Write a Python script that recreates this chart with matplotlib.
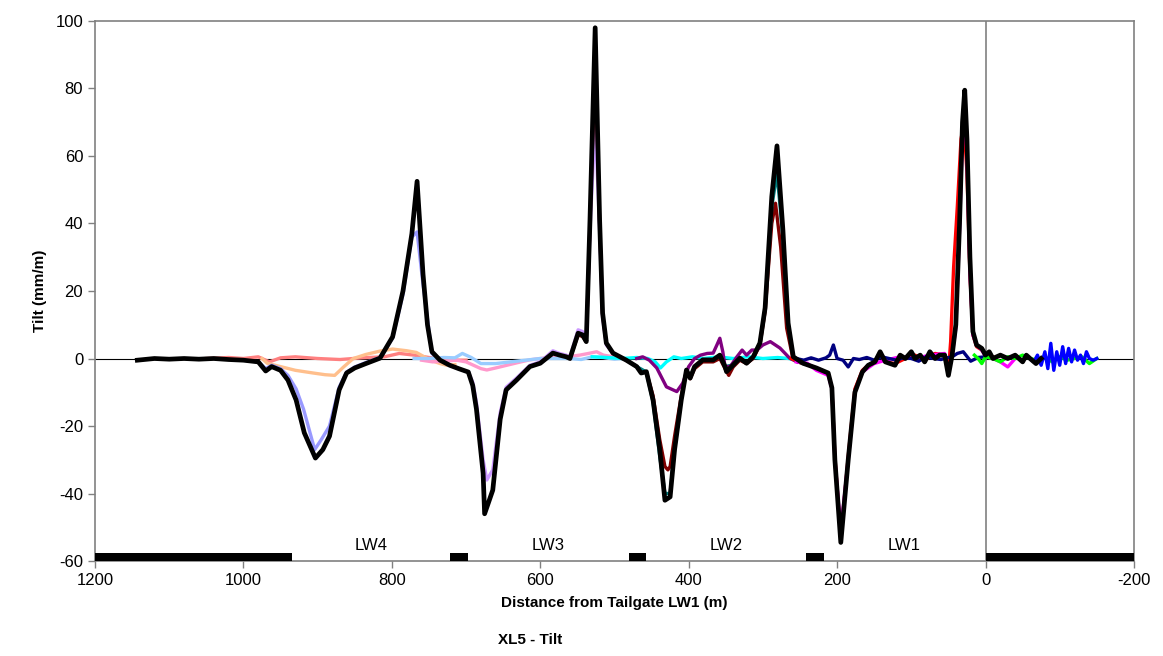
# XL5 - Tilt profile along the monitoring line

import matplotlib.pyplot as plt

plt.rcParams['font.family'] = ['Liberation Sans', 'DejaVu Sans']
plt.rcParams['axes.unicode_minus'] = False

# ------------------------------------------
# DATA
# ------------------------------------------
black_x = [1143, 1120, 1100, 1080, 1060, 1040, 1020, 1000, 980, 970, 962, 950, 940, 929, 918, 903,
           893, 884, 871, 861, 850, 835, 816, 799, 785, 773, 766, 758, 752, 746, 735, 722, 710, 697,
           691, 686, 677, 675, 664, 654, 646, 632, 614, 600, 583, 574, 565, 560, 549, 543, 538, 533,
           526, 520, 516, 511, 502, 484, 470, 464, 457, 448, 439, 432, 425, 419, 410, 403, 398, 392,
           381, 367, 358, 351, 349, 340, 331, 322, 313, 304, 297, 288, 281, 273, 266, 259, 246, 228,
           212, 207, 203, 195, 185, 176, 166, 158, 149, 142, 135, 122, 115, 108, 100, 95, 88, 82, 75,
           68, 62, 55, 50, 45, 40, 35, 31, 28, 25, 21, 17, 12, 5, 0, -5, -10, -20, -30, -40, -50,
           -55, -60, -68, -75]
black_y = [-0.5, 0, -0.2, 0, -0.2, 0, -0.3, -0.5, -1, -3.7, -2.4, -3.5, -6.4, -12.3, -22, -29.5,
           -27, -23, -9.3, -4.3, -2.8, -1.5, 0.1, 6.4, 20, 37, 52.5, 25, 10, 2, -0.5, -2, -3, -4,
           -8, -15, -34, -46, -39, -18, -9.3, -6.4, -2.4, -1.4, 1.6, 1, 0.5, 0, 7.5, 7, 5, 41,
           98, 41, 13.5, 4.6, 1.6, -0.5, -2.4, -4.3, -3.9, -12.3, -27, -42, -41, -27, -12.3, -3.4, -5.8, -2.4,
           -0.4, -0.4, 1, -2.4, -3.9, -1.9, 0.1, -1.4, 0.5, 4.6, 15, 48, 63, 38, 10.5, 0.5, -1.4, -2.8,
           -4.3, -8.7, -30, -54.5, -30, -10, -4, -2, -1, 2, -1, -2, 1, 0, 2, 0, 1, -1, 2,
           0, 1, 1, -5, 1, 10, 40, 70, 79.5, 65, 30, 8, 4, 3, 1, 2, 0, 1, 0, 1, -1,
           1, 0, -1.5, 0]

salmon_x = [1050, 1020, 1000, 980, 965, 950, 930, 900, 870, 840, 810, 790, 770, 750, 730, 710, 700]
salmon_y = [0, 0.3, 0, 0.5, -1.0, 0.2, 0.5, 0, -0.3, 0.2, 0.5, 1.5, 1.0, 0.3, -0.3, -0.5, -0.5]

peach_x = [975, 968, 950, 930, 906, 890, 877, 865, 852, 835, 816, 799, 780, 767, 749, 735, 726, 715]
peach_y = [0, -1.4, -2.4, -3.5, -4.3, -4.8, -5, -2.5, 0, 1.2, 2.2, 2.8, 2.3, 1.8, -0.4, -1.5, -2, -1.8]

lav_x = [1000, 980, 970, 962, 950, 940, 929, 919, 904, 895, 884, 871, 861, 850, 835, 816, 799, 785,
         773, 766, 758, 746, 735, 722, 710, 697]
lav_y = [-0.5, -1, -3, -2, -3, -5, -9, -15, -27, -24, -20, -8.5, -4, -2.5, -1.2, 0.3, 6, 19,
         36, 37.5, 22, 1.5, -0.5, -2, -3, -4]

pink_x = [760, 745, 730, 713, 700, 690, 680, 672, 660, 645, 630, 614, 600, 587, 575, 560, 547, 535,
          524, 515, 501, 490]
pink_y = [-0.5, -1, -0.8, -0.5, -1, -2, -3, -3.4, -2.8, -2, -1.2, -0.4, 0, 0.3, 0.5, 0.6, 1, 1.5,
          2, 1, 0.5, 0]

lblue_x = [770, 750, 730, 715, 705, 693, 680, 660, 640, 620, 600, 580, 560, 545, 530, 515, 500, 490]
lblue_y = [0, 0, 0.3, 0.2, 1.5, 0.3, -1.5, -1.5, -1, -0.5, 0, 0, 0, -0.3, 0.5, 0.3, -0.2, 0]

violet_x = [697, 691, 686, 677, 672, 664, 654, 646, 632, 614, 600, 583, 574, 565, 560, 549, 543, 538,
            533, 526, 520, 516, 511, 502]
violet_y = [-4, -7, -13, -30, -36, -33, -16, -8.5, -5.8, -2, -1, 2.3, 1.5, 1, 0.5, 8.5, 8, 5.5,
            38, 70, 38, 12, 4, 1.5]

dred_x = [560, 549, 543, 538, 533, 526, 520, 516, 511, 502, 484, 470, 464, 457, 448, 439, 432, 428,
          425, 419, 410, 403, 398, 392, 381, 367, 358, 351, 346, 340, 331, 322, 313, 304, 297, 288,
          283, 276, 268, 260, 250]
dred_y = [0, 7, 6.5, 5, 40, 88, 40, 13, 4.5, 1.5, -0.5, -2.4, -4, -4, -11, -24, -32, -33,
          -32, -23, -11, -3.5, -6, -3, -1, -1, 0, -3, -5, -2.5, -0.5, -1.5, 0, 4, 14, 40,
          46, 33, 9, 0.5, -1.2]

teal_x = [470, 457, 448, 439, 432, 425, 419, 410, 403, 398, 392, 381, 367, 358, 351, 340, 331, 322,
          313, 304, 297, 288, 281, 273, 266, 259, 246]
teal_y = [-2.4, -4, -13, -29, -40, -40, -27, -12, -3.4, -5.5, -2.4, -0.5, -0.4, 1, -2.4, -1.9, 0, -1.4,
          0.5, 4.6, 15, 45, 55, 36, 10, 0.5, -1.4]

cyan_x = [530, 510, 490, 470, 455, 445, 438, 430, 420, 410, 395, 380, 360, 340, 320, 300, 280, 265, 255]
cyan_y = [0.5, 0.3, 0, 0.3, 0, -1, -2.8, -1, 0.5, 0, 0.5, 0, 0.5, 0, 0.5, 0, 0.3, 0, -0.5]

purple_x = [470, 462, 453, 443, 430, 416, 408, 400, 392, 384, 375, 367, 362, 358, 354, 351, 344, 335,
            328, 322, 315, 308, 300, 290, 277, 270, 264, 254]
purple_y = [0, 0.5, -0.5, -2.8, -8.4, -9.8, -7.3, -2.4, 0, 1, 1.5, 1.6, 4, 6, 2, -2.4, -2.4, 0.5,
            2.5, 1.0, 2.5, 2.5, 4, 5, 3.1, 1.5, 0.1, -1]

red_x = [262, 246, 228, 212, 207, 203, 195, 185, 176, 166, 158, 149, 142, 135, 122, 108, 95, 82, 68,
         55, 50, 47, 43, 38, 33, 29, 25, 21, 17, 12, 5, 0, -10]
red_y = [0, -1.4, -2.8, -4.3, -8.7, -29, -53, -29, -9, -3.5, -2, -1, 1.5, -1, -1.5, 0, 1, -0.5, 1.5,
         1, -4, 5, 27, 45, 65, 70, 55, 25, 7, 3.5, 2.5, 1, 0.5]

magenta_x = [255, 240, 228, 212, 207, 203, 195, 185, 176, 166, 150, 135, 115, 95, 75, 55, 50, 45, 40,
             35, 31, 28, 25, 21, 17, 12, 5, 0, -10, -20, -30, -40]
magenta_y = [-1, -1.4, -3.5, -5, -9, -30, -51, -30, -10, -4, -1.5, -0.5, 0.5, 0, 1, 1.5, -4.5, 1, 9,
             38, 66, 72, 60, 26, 7, 4, 2.5, 0.5, 0, -1, -2.5, 0]

navy_x = [255, 245, 235, 225, 215, 210, 205, 200, 192, 185, 178, 170, 160, 150, 140, 130, 120, 110,
          100, 90, 80, 70, 60, 52, 45, 38, 30, 20, 10, 0]
navy_y = [0, -0.5, 0.2, -0.5, 0.2, 1, 4, 0, -0.5, -2.5, 0, -0.3, 0.3, -0.5, 0.5, 0, -0.5, 0.3,
          0, -0.8, 0.5, 0, -0.3, 0.2, 0.5, 1.5, 2, -0.8, 0.3, 0.5]

green_x = [15, 10, 5, 0, -10, -20, -30, -40, -50, -60, -70, -80, -90, -100, -110, -120, -130, -140, -150]
green_y = [1, 0, -1.5, 0.5, 0, -1, 0.5, 0, 1, 0, -0.5, 0.5, -1, 0.5, -0.5, 0, 0.5, -1.5, 0]

blue_x = [-60, -65, -70, -75, -80, -84, -88, -92, -96, -100, -104, -108, -112, -116, -120, -124, -128,
          -132, -136, -140, -145, -150]
blue_y = [0, -1, 1, -2, 2, -3, 4.5, -3.5, 2, -2, 3.5, -1.5, 3, -1, 2.5, -0.5, 1, -1.5, 2, 0, -0.5, 0]

# pillars (black bars on the baseline) and panel names
pillar_start = [935, 697, 457, 218, -200]
pillar_end = [1200, 722, 481, 242, 0]
panel_names = ["LW4", "LW3", "LW2", "LW1"]
panel_centre = [828, 589, 350, 109]

# ------------------------------------------
# PLOT
# ------------------------------------------
fig = plt.figure(figsize=(11.63, 6.56), dpi=100)
ax = fig.add_axes([0.0817, 0.1448, 0.8933, 0.8232])

ax.axhline(0, color="black", lw=0.8, zorder=1)
ax.axvline(0, color="#808080", lw=1.2, zorder=1)

thin = [
    (salmon_x, salmon_y, "#FF8080"),
    (peach_x, peach_y, "#FFBF8C"),
    (lav_x, lav_y, "#9999FF"),
    (pink_x, pink_y, "#FF99CC"),
    (lblue_x, lblue_y, "#99CCFF"),
    (violet_x, violet_y, "#CC99FF"),
    (dred_x, dred_y, "#800000"),
    (teal_x, teal_y, "#008080"),
    (cyan_x, cyan_y, "#00FFFF"),
    (purple_x, purple_y, "#800080"),
    (red_x, red_y, "#FF0000"),
    (magenta_x, magenta_y, "#FF00FF"),
    (navy_x, navy_y, "#000080"),
    (green_x, green_y, "#00FF00"),
    (blue_x, blue_y, "#0000FF"),
]
for xs, ys, c in thin:
    ax.plot(xs, ys, color=c, lw=2.4, zorder=2)

ax.plot(black_x, black_y, color="black", lw=3.4, zorder=3)

bars = [(e, s - e) for s, e in zip(pillar_end, pillar_start)]
ax.broken_barh(bars, (-60, 2.4), facecolors="black", zorder=4)

for name, xc in zip(panel_names, panel_centre):
    ax.text(xc, -55.3, name, ha="center", va="center", fontsize=12)

ax.set_xlim(1200, -200)
ax.set_ylim(-60, 100)
ax.set_xticks(range(1200, -201, -200))
ax.set_yticks(range(-60, 101, 20))
ax.tick_params(labelsize=12, color="#808080", length=5, width=1)

for sp in ax.spines.values():
    sp.set_color("#808080")
    sp.set_linewidth(1.2)

ax.set_ylabel("Tilt (mm/m)", fontsize=11, fontweight="bold", labelpad=6)
ax.set_xlabel("Distance from Tailgate LW1 (m)", fontsize=11, fontweight="bold", labelpad=6)
fig.text(0.456, 0.024, "XL5 - Tilt", ha="center", va="center", fontsize=11, fontweight="bold")

plt.savefig("out.png", dpi=100)
